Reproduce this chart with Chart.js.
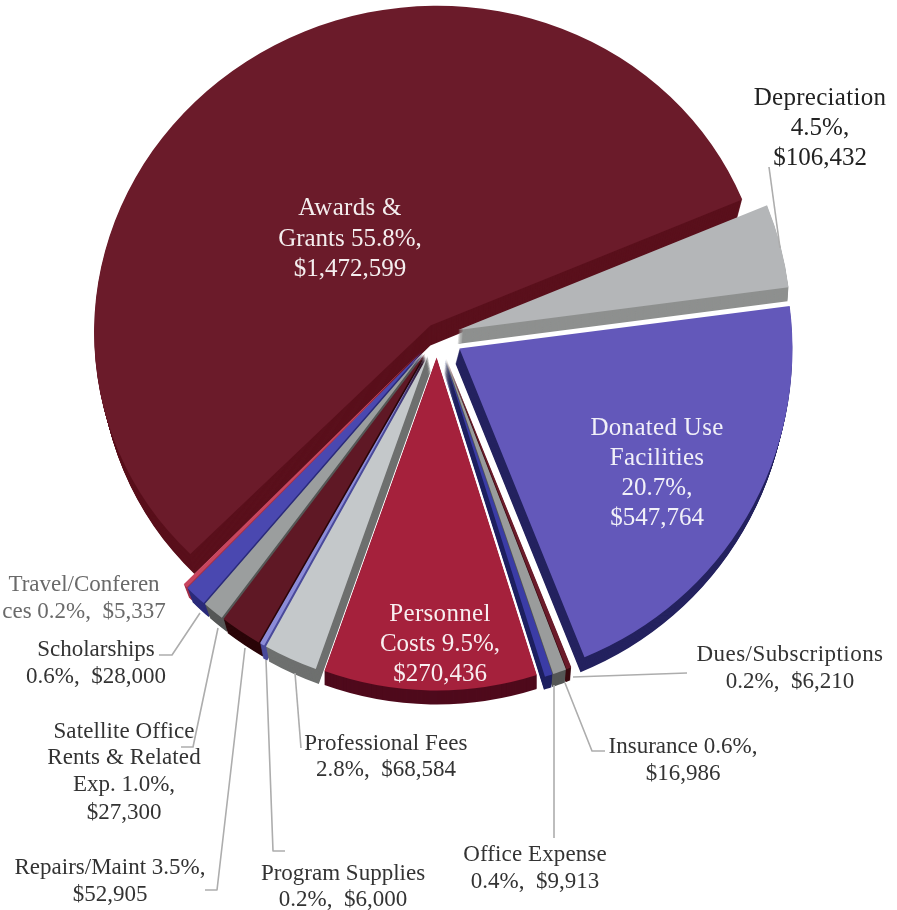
<!DOCTYPE html>
<html><head><meta charset="utf-8">
<style>html,body{margin:0;padding:0;background:#fff}canvas{display:block}</style>
<script src="https://cdn.jsdelivr.net/npm/chart.js@4"></script></head>
<body><canvas id="c" width="897" height="910"></canvas>
<script>
const categories = ["Depreciation","Donated Use Facilities","Dues/Subscriptions","Insurance","Office Expense","Personnel Costs","Professional Fees","Program Supplies","Repairs/Maint","Satellite Office Rents & Related Exp.","Scholarships","Travel/Conferences","Awards & Grants"];
const values = [106432,547764,6210,16986,9913,270436,68584,6000,52905,27300,28000,5337,1472599];
const topColors = ["#B4B6B8","#6358BA","#6B1B2A","#9A9C9C","#3B3CA6","#A5213C","#C4C8CA","#8C8CD8","#5F1825","#9B9E9E","#4A48B0","#C8455F","#6B1B2A"];
const sideColors = ["#8E908F","#24225F","#3A0A10","#555756","#1E2060","#4F0A1C","#6E706F","#4A4A9A","#2A0508","#555756","#2A2A7A","#A33048","#5A101C"];
const explode = [22,26,25,25,25,22,22,22,22,22,22,22,12];
const depthX = [-1,-4,-1,-1,-1,0,3,3,4,5,5,5,0];
const depthY = [14,15,13,13,13,14,15,15,14,14,14,13,20];
const depthShrink = [0,0,0,0,0,0,0,0,0,0,0,0,0.017];
const drawOrder = [12,0,11,10,9,8,7,6,2,3,4,5,1];
const sliceShape = {12:[1.01,0,-0.02,0.96]};

const labelFont = "'Liberation Serif'";
const textBlocks = [
 {x:820,y:[97,127,157],t:["Depreciation","4.5%,","$106,432"],s:25,c:"#222",ls:0.3},
 {x:350,y:[207,238,268],t:["Awards &","Grants 55.8%,","$1,472,599"],s:25,c:"#f4eeee",ls:0.3},
 {x:657,y:[427,457,487,517],t:["Donated Use","Facilities","20.7%,","$547,764"],s:25,c:"#f1f0f8",ls:0.3},
 {x:440,y:[613,643,673],t:["Personnel","Costs 9.5%,","$270,436"],s:25,c:"#f8eef0",ls:0.3},
 {x:790,y:[653,680],t:["Dues/Subscriptions","0.2%,  $6,210"],s:23,c:"#333",ls:0.45},
 {x:683,y:[745,772],t:["Insurance 0.6%,","$16,986"],s:23,c:"#333",ls:0.1},
 {x:535,y:[853,880],t:["Office Expense","0.4%,  $9,913"],s:23,c:"#333",ls:0.1},
 {x:386,y:[742,768],t:["Professional Fees","2.8%,  $68,584"],s:23,c:"#333",ls:0.1},
 {x:343,y:[872,898],t:["Program Supplies","0.2%,  $6,000"],s:23,c:"#333",ls:0},
 {x:110,y:[866,893],t:["Repairs/Maint 3.5%,","$52,905"],s:23,c:"#333",ls:0.1},
 {x:124,y:[730,756,783,811],t:["Satellite Office","Rents & Related","Exp. 1.0%,","$27,300"],s:23,c:"#333",ls:0.1},
 {x:96,y:[648,675],t:["Scholarships","0.6%,  $28,000"],s:23,c:"#333",ls:0},
 {x:84,y:[583,610],t:["Travel/Conferen","ces 0.2%,  $5,337"],s:23,c:"#6a6a6a",ls:0}
];
const leaders = [
 [[769,167],[780,248]],
 [[687,673],[573,677]],
 [[605,751],[592,751],[565,683]],
 [[554,838],[554,685]],
 [[301,748],[295,673]],
 [[285,851],[273,851],[266,660]],
 [[205,890],[217,890],[245,648]],
 [[181,747],[193,747],[218,628]],
 [[159,655],[172,655],[200,613]]
];

function paintArc(ctx, el, color){
  const clone = Object.create(el);
  clone.options = {backgroundColor:color,borderColor:color,borderWidth:0,borderAlign:'center',offset:0,spacing:0,circular:true,borderRadius:0,borderJoinStyle:'round',borderDash:[],borderDashOffset:0};
  clone.draw(ctx);
}
const pie3d = {
  id:'pie3d',
  beforeDatasetsDraw(chart){
    const ctx = chart.ctx, arcs = chart.getDatasetMeta(0).data;
    drawOrder.forEach(i=>{
      const el = arcs[i], mid=(el.startAngle+el.endAngle)/2, e=explode[i];
      const ox=el.x+Math.cos(mid)*e, oy=el.y+Math.sin(mid)*e;
      const m=sliceShape[i]||[1,0,0,1];
      const put=(tx,ty,sc)=>{ctx.save();ctx.translate(ox+tx,oy+ty);ctx.scale(sc,1);ctx.transform(m[0],m[2],m[1],m[3],0,0);ctx.translate(-el.x,-el.y);};
      const n=Math.max(Math.abs(depthX[i]),Math.abs(depthY[i]));
      for(let k=n;k>=1;k--){put(depthX[i]*k/n,depthY[i]*k/n,1-depthShrink[i]*k/n);paintArc(ctx,el,sideColors[i]);ctx.restore();}
      put(0,0,1);paintArc(ctx,el,topColors[i]);ctx.restore();
    });
    return false;
  },
  afterDraw(chart){
    const ctx=chart.ctx;
    ctx.save();
    ctx.strokeStyle="#adadad";ctx.lineWidth=1.6;ctx.lineJoin="round";
    leaders.forEach(l=>{ctx.beginPath();l.forEach((p,i)=>i?ctx.lineTo(p[0],p[1]):ctx.moveTo(p[0],p[1]));ctx.stroke();});
    ctx.textAlign="center";ctx.textBaseline="middle";
    textBlocks.forEach(b=>{
      ctx.font=b.s+"px "+labelFont;ctx.fillStyle=b.c;
      b.t.forEach((s,i)=>{
        ctx.letterSpacing=(/\d/.test(s)?0:b.ls)+"px";
        ctx.fillText(s,b.x,b.y[i]+1.5);
      });
    });
    ctx.restore();
  }
};
new Chart(document.getElementById('c'),{
  type:'pie',
  data:{labels:categories,datasets:[{data:values,backgroundColor:topColors,borderWidth:0}]},
  options:{responsive:false,animation:false,rotation:68,radius:333,
    layout:{padding:{left:0,top:0,right:23,bottom:239}},
    plugins:{legend:{display:false},tooltip:{enabled:false},title:{display:false}}},
  plugins:[pie3d]
});
</script></body></html>
